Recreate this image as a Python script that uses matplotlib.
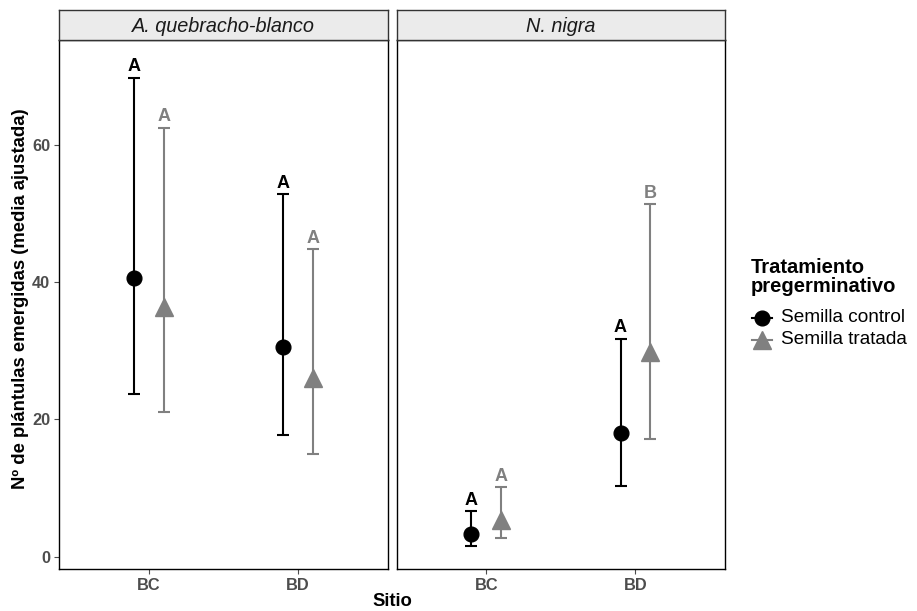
import numpy as np
import matplotlib.pyplot as plt
from matplotlib.lines import Line2D

plt.rcParams['font.family'] = ['Liberation Sans', 'DejaVu Sans']

especies = ["A. quebracho-blanco", "N. nigra"]
sitios = ["BC", "BD"]
tratamientos = ["Semilla control", "Semilla tratada"]

# media ajustada, limite inferior, limite superior  [especie][tratamiento][sitio]
media = [[[40.6, 30.5], [36.4, 26.0]],
         [[3.3, 18.1], [5.4, 29.9]]]
inferior = [[[23.7, 17.7], [21.1, 14.9]],
            [[1.6, 10.3], [2.7, 17.1]]]
superior = [[[69.8, 52.8], [62.5, 44.8]],
            [[6.6, 31.8], [10.1, 51.4]]]
letras = [[["A", "A"], ["A", "A"]],
          [["A", "A"], ["A", "B"]]]

colores = ["black", "#808080"]
marcadores = ["o", "^"]
tam = [10.6, 13.2]
dodge = [-0.1, 0.1]

fig = plt.figure(figsize=(9.17, 6.11), dpi=100)

lefts = [0.0647, 0.4326]
w, b, h = 0.358, 0.0682, 0.8663
x = np.arange(len(sitios)) + 1

for e, nombre in enumerate(especies):
    ax = fig.add_axes([lefts[e], b, w, h])
    for t in range(2):
        xs = x + dodge[t]
        m = np.array(media[e][t])
        lo = np.array(inferior[e][t])
        hi = np.array(superior[e][t])
        ax.errorbar(xs, m, yerr=[m - lo, hi - m], fmt='none', ecolor=colores[t],
                    elinewidth=1.5, capsize=4.1, capthick=1.5, zorder=2)
        ax.plot(xs, m, linestyle='none', marker=marcadores[t], color=colores[t],
                markersize=tam[t], zorder=3)
        for i in range(len(sitios)):
            ax.annotate(letras[e][t][i], (xs[i], hi[i]), xytext=(0, 4.6),
                        textcoords='offset points', ha='center', va='baseline',
                        fontsize=13, fontweight='bold', color=colores[t])
    ax.set_xlim(0.4, 2.6)
    ax.set_ylim(-1.84, 75.3)
    ax.set_xticks(x)
    ax.set_xticklabels(sitios)
    ax.set_yticks([0, 20, 40, 60])
    ax.tick_params(axis='both', length=3.5, width=0.8, color='#4D4D4D',
                   labelcolor='#4D4D4D', labelsize=11.8, pad=3)
    if e > 0:
        ax.set_yticklabels([])
        ax.tick_params(axis='y', length=0)
    for lab in ax.get_xticklabels() + ax.get_yticklabels():
        lab.set_fontweight('bold')
    for s in ax.spines.values():
        s.set_linewidth(1.0)
        s.set_color('black')

    # strip
    sax = fig.add_axes([lefts[e], 0.9345, w, 0.0491])
    sax.set_facecolor('#EBEBEB')
    sax.set_xticks([])
    sax.set_yticks([])
    for s in sax.spines.values():
        s.set_linewidth(1.0)
        s.set_color('#333333')
    sax.text(0.5, 0.45, nombre, transform=sax.transAxes, ha='center', va='center',
             fontsize=14.3, style='italic', color='#1A1A1A')

fig.text(0.022, 0.511, "Nº de plántulas emergidas (media ajustada)", rotation=90,
         ha='center', va='center', fontsize=13.3, fontweight='bold')
fig.text(0.4276, 1 - 601 / 611, "Sitio", ha='center', va='center', fontsize=13.3,
         fontweight='bold')

# leyenda
fig.text(751 / 917, 1 - 277 / 611, "Tratamiento\npregerminativo", ha='left',
         va='center', fontsize=14.5, fontweight='bold', linespacing=1.0)
ys = [1 - 318 / 611, 1 - 340 / 611]
for t in range(2):
    fig.add_artist(Line2D([752 / 917, 772 / 917], [ys[t], ys[t]], color=colores[t],
                          linewidth=1.5, marker=None, transform=fig.transFigure))
    fig.add_artist(Line2D([762 / 917], [ys[t]], color=colores[t], linestyle='none',
                          marker=marcadores[t], markersize=tam[t],
                          transform=fig.transFigure))
    fig.text(781 / 917, ys[t], tratamientos[t], ha='left', va='center', fontsize=13.7)

fig.savefig("out.png", dpi=100)
